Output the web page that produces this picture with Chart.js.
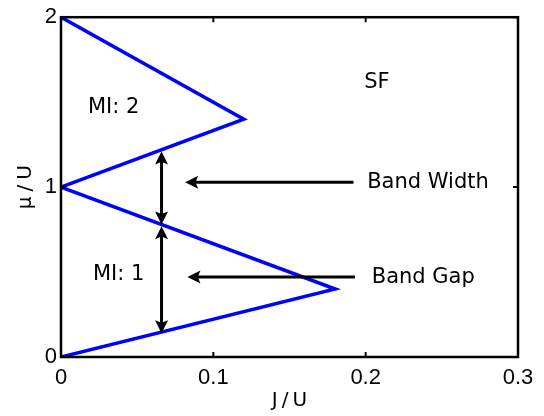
<!DOCTYPE html>
<html>
<head>
<meta charset="utf-8">
<script src="https://cdn.jsdelivr.net/npm/chart.js@4"></script>
<style>
  html, body { margin: 0; padding: 0; background: #fff; }
  #wrap { width: 544px; height: 416px; }
</style>
</head>
<body>
<div id="wrap"><canvas id="c" width="544" height="416"></canvas></div>
<script>
// Phase boundary (J/U, mu/U)
const boundaryJ  = [0, 0.12, 0, 0.18, 0];
const boundaryMu = [2, 1.4, 1, 0.4, 0];

const xTicks = [0, 0.1, 0.2, 0.3];
const yTicks = [0, 1, 2];

// Double arrows (vertical) : J, mu from, mu to
const vArrowJ    = [0.066, 0.066];
const vArrowFrom = [1.21, 0.77];
const vArrowTo   = [0.78, 0.14];

// Pointer arrows (horizontal) : mu, J tail, J head
const hArrowMu   = [1.028, 0.471];
const hArrowTail = [0.192, 0.193];
const hArrowHead = [0.0815, 0.083];

// Annotation labels
const labelText  = ['SF', 'MI: 2', 'MI: 1', 'Band Width', 'Band Gap'];
const labelJ     = [0.2074, 0.0177, 0.021, 0.201, 0.204];
const labelMu    = [1.613, 1.466, 0.487, 1.026, 0.469];
const labelAlign = ['center', 'left', 'left', 'left', 'left'];

const xTitle = 'J/U';
const yTitle = 'μ/U';

const annoFont  = '21px "DejaVu Sans", sans-serif';
const titleFont = '20px "DejaVu Sans", sans-serif';

function arrowHead(ctx, x, y, ang) {
  const len = 13, half = 6.5;
  ctx.save();
  ctx.translate(x, y);
  ctx.rotate(ang);
  ctx.beginPath();
  ctx.moveTo(0, 0);
  ctx.lineTo(-len, -half);
  ctx.lineTo(-len * 0.8, 0);
  ctx.lineTo(-len, half);
  ctx.closePath();
  ctx.fill();
  ctx.restore();
}

// spaced-out text centred on (cx, cy)
function spacedText(ctx, text, cx, cy, spacing) {
  ctx.letterSpacing = spacing + 'px';
  const w = ctx.measureText(text).width - spacing;
  ctx.textAlign = 'left';
  ctx.textBaseline = 'middle';
  ctx.fillText(text, cx - w / 2, cy);
  ctx.letterSpacing = '0px';
}

// Frame, inward ticks, arrows, labels and axis titles
const decorations = {
  id: 'decorations',
  afterDatasetsDraw(chart) {
    const { ctx, chartArea: a, scales: { x, y } } = chart;
    ctx.save();
    ctx.strokeStyle = '#000';
    ctx.fillStyle = '#000';
    ctx.lineWidth = 2.5;
    ctx.strokeRect(a.left, a.top, a.right - a.left, a.bottom - a.top);

    // inward tick marks
    ctx.lineWidth = 2;
    ctx.beginPath();
    xTicks.forEach(v => {
      const px = x.getPixelForValue(v);
      ctx.moveTo(px, a.bottom); ctx.lineTo(px, a.bottom - 5);
      ctx.moveTo(px, a.top);    ctx.lineTo(px, a.top + 5);
    });
    yTicks.forEach(v => {
      const py = y.getPixelForValue(v);
      ctx.moveTo(a.left, py);  ctx.lineTo(a.left + 5, py);
      ctx.moveTo(a.right, py); ctx.lineTo(a.right - 5, py);
    });
    ctx.stroke();

    // vertical double arrows
    ctx.lineWidth = 3;
    vArrowJ.forEach((j, i) => {
      const px = x.getPixelForValue(j);
      const y1 = y.getPixelForValue(vArrowFrom[i]);
      const y2 = y.getPixelForValue(vArrowTo[i]);
      ctx.beginPath();
      ctx.moveTo(px, y1 + 8); ctx.lineTo(px, y2 - 8);
      ctx.stroke();
      arrowHead(ctx, px, y1, -Math.PI / 2);
      arrowHead(ctx, px, y2, Math.PI / 2);
    });

    // horizontal pointer arrows
    hArrowMu.forEach((m, i) => {
      const py = y.getPixelForValue(m);
      const xt = x.getPixelForValue(hArrowTail[i]);
      const xh = x.getPixelForValue(hArrowHead[i]);
      ctx.beginPath();
      ctx.moveTo(xt, py); ctx.lineTo(xh + 8, py);
      ctx.stroke();
      arrowHead(ctx, xh, py, Math.PI);
    });

    // labels
    ctx.font = annoFont;
    ctx.textBaseline = 'middle';
    labelText.forEach((t, i) => {
      ctx.textAlign = labelAlign[i];
      ctx.fillText(t, x.getPixelForValue(labelJ[i]), y.getPixelForValue(labelMu[i]));
    });

    // axis titles
    ctx.font = titleFont;
    spacedText(ctx, xTitle, (a.left + a.right) / 2, 401, 4);
    ctx.save();
    ctx.translate(26, (a.top + a.bottom) / 2);
    ctx.rotate(-Math.PI / 2);
    spacedText(ctx, yTitle, 0, 0, 5);
    ctx.restore();
    ctx.restore();
  }
};

new Chart(document.getElementById('c'), {
  type: 'scatter',
  data: {
    datasets: [{
      data: boundaryJ.map((j, i) => ({ x: j, y: boundaryMu[i] })),
      showLine: true,
      borderColor: '#0000FF',
      borderWidth: 3.5,
      pointRadius: 0,
      tension: 0,
    }],
  },
  options: {
    responsive: false,
    animation: false,
    layout: { padding: { top: 16, right: 26, left: 0, bottom: 0 } },
    plugins: { legend: { display: false }, tooltip: { enabled: false } },
    scales: {
      x: {
        type: 'linear',
        min: 0, max: 0.3,
        afterBuildTicks: s => { s.ticks = xTicks.map(v => ({ value: v })); },
        afterFit: s => { s.height = 59; },
        grid: { display: false, drawTicks: false },
        border: { display: false },
        ticks: {
          padding: 8,
          color: '#000',
          font: { family: '"Liberation Sans", Arial, sans-serif', size: 22 },
          callback: v => String(v),
        },
      },
      y: {
        type: 'linear',
        min: 0, max: 2,
        afterBuildTicks: s => { s.ticks = yTicks.map(v => ({ value: v })); },
        afterFit: s => { s.width = 61; },
        grid: { display: false, drawTicks: false },
        border: { display: false },
        ticks: {
          padding: 4,
          color: '#000',
          font: { family: '"Liberation Sans", Arial, sans-serif', size: 22 },
        },
      },
    },
  },
  plugins: [decorations],
});
</script>
</body>
</html>
